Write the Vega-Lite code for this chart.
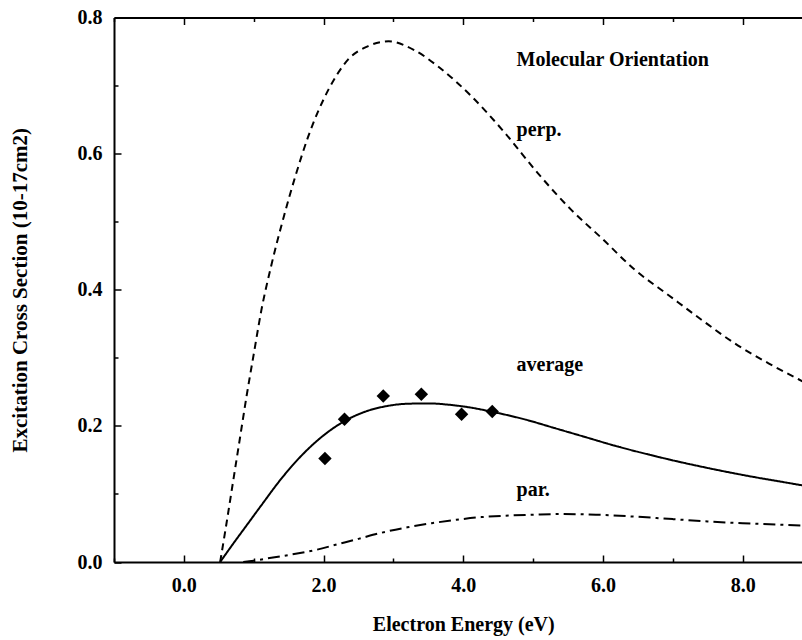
{
  "$schema": "https://vega.github.io/schema/vega-lite/v6.json",
  "width": 698.5,
  "height": 544.5,
  "autosize": {"type": "none"},
  "padding": {"left": 114, "top": 17.5, "right": 0, "bottom": 78},
  "background": "white",
  "config": {
    "view": {"stroke": null},
    "font": "Liberation Serif",
    "axis": {
      "grid": false,
      "labelFont": "Liberation Serif",
      "labelFontWeight": "bold",
      "labelFontSize": 20,
      "labelColor": "black",
      "tickColor": "black",
      "tickWidth": 1.5,
      "domainColor": "black",
      "domainWidth": 2,
      "titleFont": "Liberation Serif",
      "titleFontWeight": "bold",
      "titleFontSize": 20,
      "titleColor": "black"
    }
  },
  "datasets": {
    "curves": [
      {"x": 0.52, "y": 0, "series": "perp"},
      {"x": 0.6, "y": 0.05, "series": "perp"},
      {"x": 0.7, "y": 0.115, "series": "perp"},
      {"x": 0.8, "y": 0.18, "series": "perp"},
      {"x": 0.9, "y": 0.245, "series": "perp"},
      {"x": 1.0, "y": 0.305, "series": "perp"},
      {"x": 1.11, "y": 0.37, "series": "perp"},
      {"x": 1.25, "y": 0.435, "series": "perp"},
      {"x": 1.43, "y": 0.507, "series": "perp"},
      {"x": 1.6, "y": 0.568, "series": "perp"},
      {"x": 1.78, "y": 0.625, "series": "perp"},
      {"x": 2.07, "y": 0.694, "series": "perp"},
      {"x": 2.35, "y": 0.738, "series": "perp"},
      {"x": 2.64, "y": 0.758, "series": "perp"},
      {"x": 2.93, "y": 0.765, "series": "perp"},
      {"x": 3.3, "y": 0.752, "series": "perp"},
      {"x": 3.64, "y": 0.728, "series": "perp"},
      {"x": 4.12, "y": 0.684, "series": "perp"},
      {"x": 4.6, "y": 0.63, "series": "perp"},
      {"x": 5.07, "y": 0.571, "series": "perp"},
      {"x": 5.55, "y": 0.517, "series": "perp"},
      {"x": 5.98, "y": 0.476, "series": "perp"},
      {"x": 6.46, "y": 0.429, "series": "perp"},
      {"x": 6.94, "y": 0.392, "series": "perp"},
      {"x": 7.41, "y": 0.356, "series": "perp"},
      {"x": 7.89, "y": 0.321, "series": "perp"},
      {"x": 8.37, "y": 0.292, "series": "perp"},
      {"x": 8.8, "y": 0.2685, "series": "perp"},
      {"x": 9.0, "y": 0.258, "series": "perp"},
      {"x": 0.52, "y": 0, "series": "average"},
      {"x": 0.7, "y": 0.026, "series": "average"},
      {"x": 0.9, "y": 0.054, "series": "average"},
      {"x": 1.1, "y": 0.082, "series": "average"},
      {"x": 1.4, "y": 0.123, "series": "average"},
      {"x": 1.7, "y": 0.158, "series": "average"},
      {"x": 2.0, "y": 0.186, "series": "average"},
      {"x": 2.3, "y": 0.207, "series": "average"},
      {"x": 2.6, "y": 0.221, "series": "average"},
      {"x": 2.9, "y": 0.229, "series": "average"},
      {"x": 3.2, "y": 0.2325, "series": "average"},
      {"x": 3.5, "y": 0.233, "series": "average"},
      {"x": 3.8, "y": 0.231, "series": "average"},
      {"x": 4.1, "y": 0.227, "series": "average"},
      {"x": 4.4, "y": 0.221, "series": "average"},
      {"x": 4.9, "y": 0.209, "series": "average"},
      {"x": 5.3, "y": 0.197, "series": "average"},
      {"x": 5.7, "y": 0.185, "series": "average"},
      {"x": 6.2, "y": 0.17, "series": "average"},
      {"x": 6.65, "y": 0.158, "series": "average"},
      {"x": 7.1, "y": 0.147, "series": "average"},
      {"x": 7.6, "y": 0.136, "series": "average"},
      {"x": 8.1, "y": 0.126, "series": "average"},
      {"x": 8.55, "y": 0.118, "series": "average"},
      {"x": 9.0, "y": 0.11, "series": "average"},
      {"x": 0.85, "y": 0, "series": "par"},
      {"x": 1.0, "y": 0.002, "series": "par"},
      {"x": 1.3, "y": 0.007, "series": "par"},
      {"x": 1.6, "y": 0.012, "series": "par"},
      {"x": 1.9, "y": 0.018, "series": "par"},
      {"x": 2.2, "y": 0.026, "series": "par"},
      {"x": 2.5, "y": 0.034, "series": "par"},
      {"x": 2.83, "y": 0.043, "series": "par"},
      {"x": 3.2, "y": 0.051, "series": "par"},
      {"x": 3.55, "y": 0.057, "series": "par"},
      {"x": 3.9, "y": 0.062, "series": "par"},
      {"x": 4.26, "y": 0.066, "series": "par"},
      {"x": 4.6, "y": 0.068, "series": "par"},
      {"x": 5.0, "y": 0.0695, "series": "par"},
      {"x": 5.4, "y": 0.0705, "series": "par"},
      {"x": 5.9, "y": 0.0695, "series": "par"},
      {"x": 6.4, "y": 0.067, "series": "par"},
      {"x": 7.0, "y": 0.063, "series": "par"},
      {"x": 7.5, "y": 0.0595, "series": "par"},
      {"x": 8.0, "y": 0.057, "series": "par"},
      {"x": 8.5, "y": 0.055, "series": "par"},
      {"x": 9.0, "y": 0.053, "series": "par"}
    ],
    "diamonds": [
      {"x": 2.02, "y": 0.152},
      {"x": 2.3, "y": 0.2097},
      {"x": 2.855, "y": 0.244},
      {"x": 3.4, "y": 0.2464},
      {"x": 3.976, "y": 0.217},
      {"x": 4.415, "y": 0.221}
    ],
    "labels": [
      {"x": 4.763, "y": 0.7377, "text": "Molecular Orientation"},
      {"x": 4.763, "y": 0.6348, "text": "perp."},
      {"x": 4.763, "y": 0.2895, "text": "average"},
      {"x": 4.763, "y": 0.1058, "text": "par."}
    ]
  },
  "layer": [
    {
      "data": {"name": "curves"},
      "mark": {"type": "line", "color": "black", "strokeWidth": 2, "interpolate": "monotone", "clip": true},
      "encoding": {
        "x": {
          "field": "x", "type": "quantitative",
          "scale": {"domain": [-1, 9], "nice": false, "zero": false},
          "axis": {"orient": "bottom", "values": [0, 2, 4, 6, 8], "format": ".1f", "tickSize": -7, "labelPadding": 20, "title": "Electron Energy (eV)", "titlePadding": 19}
        },
        "y": {
          "field": "y", "type": "quantitative",
          "scale": {"domain": [0, 0.8], "nice": false, "zero": false},
          "axis": {"orient": "left", "values": [0, 0.2, 0.4, 0.6, 0.8], "format": ".1f", "tickSize": -7, "labelPadding": 19, "title": "Excitation Cross Section (10-17cm2)", "titlePadding": 47, "titleFontSize": 21}
        },
        "strokeDash": {
          "field": "series", "type": "nominal",
          "scale": {"domain": ["perp", "average", "par"], "range": [[7, 5], [1, 0], [12, 5, 3, 5]]},
          "legend": null
        }
      }
    },
    {
      "data": {"name": "diamonds"},
      "mark": {"type": "point", "shape": "diamond", "filled": true, "color": "black", "opacity": 1, "size": 180},
      "encoding": {
        "x": {"field": "x", "type": "quantitative", "axis": {"orient": "top", "values": [0, 2, 4, 6, 8], "labels": false, "tickSize": -7, "title": null}},
        "y": {"field": "y", "type": "quantitative", "axis": null}
      }
    },
    {
      "data": {"name": "labels"},
      "mark": {"type": "text", "align": "left", "baseline": "middle", "font": "Liberation Serif", "fontWeight": "bold", "fontSize": 20, "color": "black"},
      "encoding": {
        "x": {"field": "x", "type": "quantitative", "axis": {"orient": "bottom", "values": [-1, 1, 3, 5, 7, 9], "labels": false, "domain": false, "tickSize": -4, "title": null}},
        "y": {"field": "y", "type": "quantitative", "axis": {"orient": "left", "values": [0.1, 0.3, 0.5, 0.7], "labels": false, "domain": false, "tickSize": -4, "title": null}},
        "text": {"field": "text", "type": "nominal"}
      }
    },
    {
      "data": {"name": "diamonds"},
      "mark": {"type": "point", "opacity": 0},
      "encoding": {
        "x": {"field": "x", "type": "quantitative", "axis": {"orient": "top", "values": [-1, 1, 3, 5, 7, 9], "labels": false, "domain": false, "tickSize": -4, "title": null}},
        "y": {"field": "y", "type": "quantitative", "axis": null}
      }
    }
  ],
  "resolve": {"axis": {"x": "independent", "y": "independent"}}
}
